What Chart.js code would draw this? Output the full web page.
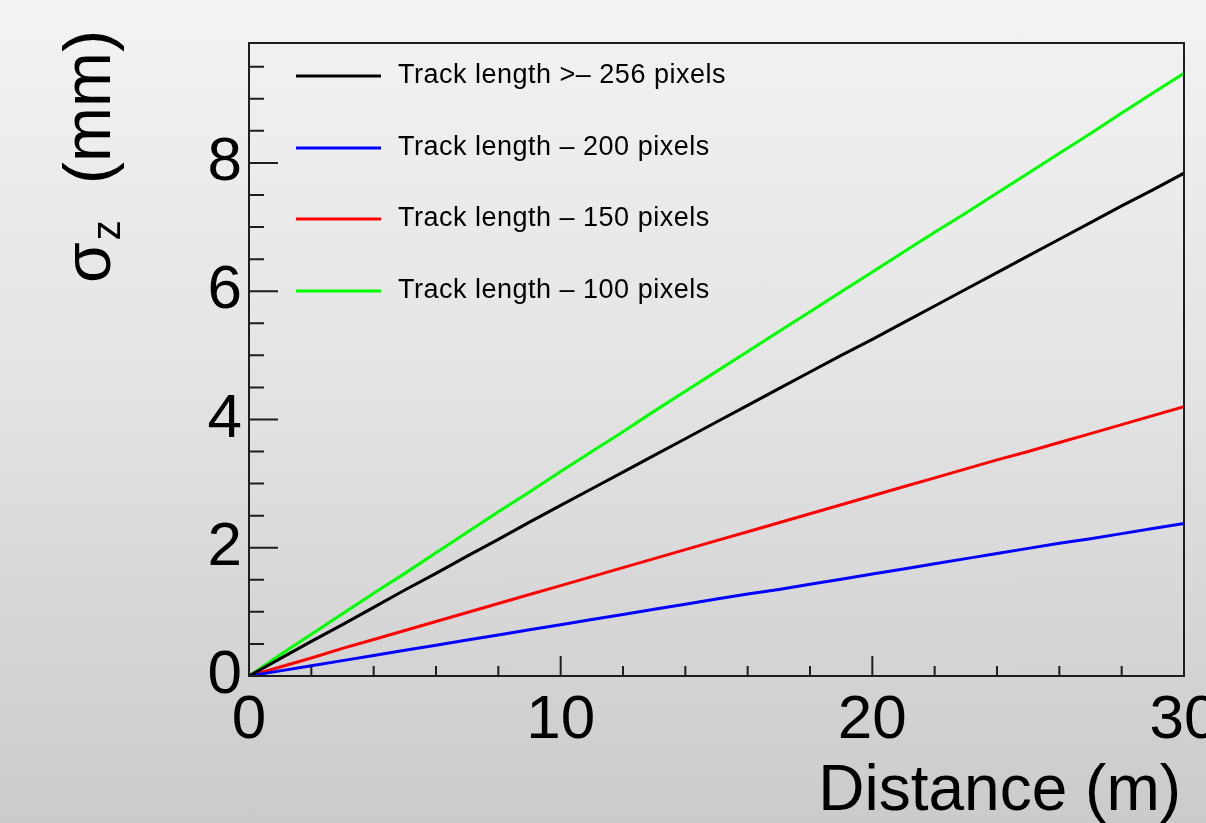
<!DOCTYPE html>
<html>
<head>
<meta charset="utf-8">
<script src="https://cdn.jsdelivr.net/npm/chart.js@4.4.1/dist/chart.umd.min.js"></script>
<style>
  html, body { margin: 0; padding: 0; width: 1206px; height: 823px; overflow: hidden; }
  body { background: linear-gradient(180deg, #f3f3f3 0%, #e4e4e4 45%, #cbcbcb 100%); }
  #wrap { position: relative; width: 1206px; height: 823px; }
  canvas { display: block; }
</style>
</head>
<body>
<div id="wrap"><canvas id="chart" width="1206" height="823"></canvas></div>
<script>
// Distance along the track (m)
const distance = [0,1,2,3,4,5,6,7,8,9,10,11,12,13,14,15,16,17,18,19,20,21,22,23,24,25,26,27,28,29,30];

// Longitudinal resolution sigma_z (mm) for each track length
const sigmaLen256 = [0,0.27,0.54,0.80,1.07,1.34,1.60,1.87,2.13,2.40,2.66,2.92,3.18,3.44,3.70,3.96,4.22,4.48,4.74,5.00,5.25,5.51,5.77,6.03,6.29,6.55,6.81,7.07,7.33,7.58,7.84];
const sigmaLen200 = [0,0.08,0.16,0.24,0.32,0.40,0.48,0.56,0.64,0.72,0.80,0.88,0.96,1.04,1.12,1.20,1.28,1.35,1.43,1.51,1.59,1.67,1.75,1.83,1.91,1.99,2.07,2.14,2.22,2.30,2.38];
const sigmaLen150 = [0,0.14,0.28,0.43,0.57,0.71,0.85,0.99,1.13,1.27,1.41,1.55,1.69,1.83,1.97,2.11,2.25,2.39,2.53,2.67,2.81,2.95,3.09,3.23,3.37,3.50,3.64,3.78,3.92,4.06,4.20];
const sigmaLen100 = [0,0.33,0.65,0.97,1.29,1.60,1.92,2.24,2.56,2.87,3.19,3.50,3.81,4.13,4.44,4.75,5.06,5.37,5.68,5.99,6.30,6.61,6.92,7.22,7.53,7.84,8.15,8.46,8.78,9.09,9.40];

const seriesLabels = [
  'Track length >\u2013 256 pixels',
  'Track length \u2013 200 pixels',
  'Track length \u2013 150 pixels',
  'Track length \u2013 100 pixels'
];
const seriesColors = ['#000000', '#0000ff', '#ff0000', '#00ff00'];

// Axis ranges and tick positions
const xRange = [0, 30];
const yRange = [0, 9.87];
const xMajorTicks = [0, 10, 20, 30];
const xMinorTicks = [2, 4, 6, 8, 12, 14, 16, 18, 22, 24, 26, 28];
const yMajorTicks = [0, 2, 4, 6, 8];
const yMinorTicks = [0.5, 1, 1.5, 2.5, 3, 3.5, 4.5, 5, 5.5, 6.5, 7, 7.5, 8.5, 9, 9.5];

const xTitle = 'Distance (m)';
const yTitleSymbol = '\u03c3';
const yTitleSub = 'z';
const yTitleUnit = ' (mm)';

const FONT = "'Liberation Sans', Arial, Helvetica, sans-serif";
Chart.defaults.font.family = FONT;

const toXY = arr => arr.map((v, i) => ({ x: distance[i], y: v }));
const allSeries = [sigmaLen256, sigmaLen200, sigmaLen150, sigmaLen100];

// Frame, inward ticks, legend block and axis titles in ROOT style
const rootStyle = {
  id: 'rootStyle',
  afterDraw(chart) {
    const { ctx, chartArea: a, scales } = chart;
    const xs = scales.x, ys = scales.y;
    ctx.save();
    ctx.strokeStyle = '#1e1e1e';
    ctx.lineWidth = 2;
    ctx.strokeRect(a.left, a.top, a.right - a.left, a.bottom - a.top);

    ctx.beginPath();
    xMajorTicks.forEach(v => { const p = xs.getPixelForValue(v); ctx.moveTo(p, a.bottom); ctx.lineTo(p, a.bottom - 20); });
    xMinorTicks.forEach(v => { const p = xs.getPixelForValue(v); ctx.moveTo(p, a.bottom); ctx.lineTo(p, a.bottom - 10); });
    yMajorTicks.forEach(v => { const p = ys.getPixelForValue(v); ctx.moveTo(a.left, p); ctx.lineTo(a.left + 29, p); });
    yMinorTicks.forEach(v => { const p = ys.getPixelForValue(v); ctx.moveTo(a.left, p); ctx.lineTo(a.left + 15, p); });
    ctx.stroke();

    // legend
    const legendRows = [76, 148, 219, 291];
    ctx.font = '27px ' + FONT;
    ctx.letterSpacing = '0.5px';
    ctx.textAlign = 'left';
    ctx.textBaseline = 'middle';
    chart.data.datasets.forEach((ds, i) => {
      const y = legendRows[i];
      ctx.strokeStyle = ds.borderColor;
      ctx.lineWidth = 3;
      ctx.beginPath();
      ctx.moveTo(296, y);
      ctx.lineTo(381, y);
      ctx.stroke();
      ctx.fillStyle = '#000';
      ctx.fillText(ds.label, 398, y);
    });
    ctx.letterSpacing = '0px';

    // x title
    ctx.fillStyle = '#000';
    ctx.font = '64px ' + FONT;
    ctx.textAlign = 'right';
    ctx.textBaseline = 'alphabetic';
    ctx.fillText(xTitle, 1181, 810);

    // y title (rotated, aligned to the top end)
    const big = '66px ' + FONT, small = '40px ' + FONT;
    const subGap = 2, unitGap = 18;
    ctx.font = big;
    const wSym = ctx.measureText(yTitleSymbol).width;
    const wUnit = ctx.measureText(yTitleUnit).width;
    ctx.font = small;
    const wSub = ctx.measureText(yTitleSub).width;
    const total = wSym + subGap + wSub + unitGap + wUnit;
    ctx.translate(110, 30);
    ctx.rotate(-Math.PI / 2);
    ctx.textAlign = 'left';
    let u = -total;
    ctx.font = big;
    ctx.fillText(yTitleSymbol, u, 0);
    u += wSym + subGap;
    ctx.font = small;
    ctx.fillText(yTitleSub, u, 10);
    u += wSub + unitGap;
    ctx.font = big;
    ctx.fillText(yTitleUnit, u, 0);
    ctx.restore();
  }
};

new Chart(document.getElementById('chart'), {
  type: 'line',
  data: {
    datasets: allSeries.map((s, i) => ({
      label: seriesLabels[i],
      data: toXY(s),
      borderColor: seriesColors[i],
      backgroundColor: seriesColors[i],
      borderWidth: 3,
      pointRadius: 0,
      tension: 0,
      fill: false
    }))
  },
  options: {
    responsive: false,
    animation: false,
    devicePixelRatio: 1,
    layout: { padding: { top: 43, right: 22, left: 0, bottom: 0 } },
    plugins: { legend: { display: false }, tooltip: { enabled: false } },
    scales: {
      x: {
        type: 'linear',
        min: xRange[0], max: xRange[1],
        offset: false,
        grid: { display: false, drawTicks: false },
        border: { display: false },
        ticks: { stepSize: 10, color: '#000', font: { size: 62 }, padding: 8, maxRotation: 0, autoSkip: false, includeBounds: false },
        afterFit(s) { s.height = 147; s.paddingLeft = 0; s.paddingRight = 0; }
      },
      y: {
        type: 'linear',
        min: yRange[0], max: yRange[1],
        grid: { display: false, drawTicks: false },
        border: { display: false },
        ticks: { stepSize: 2, color: '#000', font: { size: 62 }, padding: 7, includeBounds: false },
        afterFit(s) { s.width = 249; s.paddingTop = 0; s.paddingBottom = 0; }
      }
    }
  },
  plugins: [rootStyle]
});
</script>
</body>
</html>
